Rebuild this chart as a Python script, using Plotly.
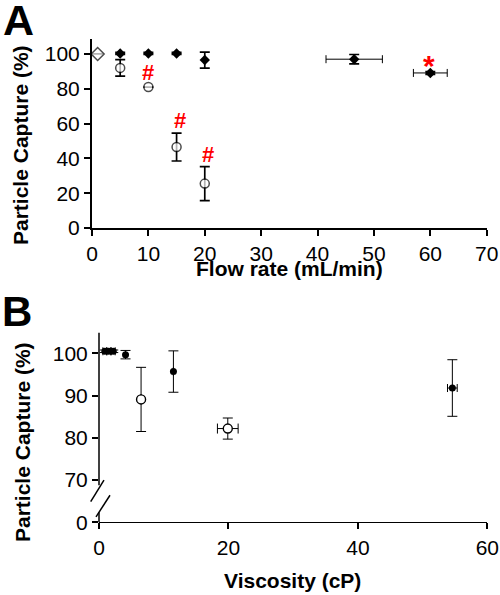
import plotly.graph_objects as go

# ---------------- Data ----------------
# Panel A: particle capture vs flow rate
a_fill_x = [5, 10, 15, 20, 46.5, 60]
a_fill_y = [100.3, 100.3, 100.3, 96.5, 97.0, 89.1]
a_fill_yerr = [0.6, 0.6, 0.6, 4.6, 2.7, 0.8]
a_fill_xerr = [0, 0, 0, 0, 5.0, 3.0]

a_open_x = [1, 5, 10, 15, 20]
a_open_y = [100, 92, 81, 46.5, 25.5]
a_open_yerr = [0, 4.7, 0, 8.0, 9.8]

a_mark_text = ["#", "#", "#", "*"]
a_mark_x = [10, 15.6, 20.6, 59.8]
a_mark_y = [89.5, 62, 42, 96.5]

a_xticks = [0, 10, 20, 30, 40, 50, 60, 70]
a_yticks = [0, 20, 40, 60, 80, 100]

# Panel B: particle capture vs viscosity
b_fill_x = [0.9, 1.5, 2.2, 4.1, 11.5, 54.6]
b_fill_y = [100.5, 100.5, 100.5, 99.7, 95.7, 91.8]
b_fill_yerr = [0.3, 0.3, 0.3, 1.0, 4.9, 6.7]
b_fill_xerr = [0.3, 0.3, 0.3, 0, 0, 0.75]

b_open_x = [6.5, 19.9]
b_open_y = [89.1, 82.2]
b_open_yerr = [7.6, 2.5]
b_open_xerr = [0, 1.6]

b_xticks = [0, 20, 40, 60]
b_yticks = [60, 70, 80, 90, 100]          # 60 is the broken-axis position of "0"
b_yticklabels = ["0", "70", "80", "90", "100"]

# ---------------- Layout geometry ----------------
W, H = 500, 595
FONT = "Liberation Sans, Arial, sans-serif"

a_xdom = [92 / W, 486.7 / W]
a_ydom = [1 - 228 / H, 1 - 39 / H]
a_xrng = [0, 70]
a_yrng = [0, 108.6]

b_xdom = [99 / W, 487.3 / W]
b_ydom = [1 - 522.3 / H, 1 - 332.7 / H]
b_xrng = [0, 60]
b_yrng = [60, 104.9]


def px(v, dom, rng):
    return dom[0] + (v - rng[0]) / (rng[1] - rng[0]) * (dom[1] - dom[0])


fig = go.Figure()

err_style = dict(type="data", color="black", thickness=1.7, width=5)

fig.add_trace(go.Scatter(
    x=a_open_x, y=a_open_y, mode="markers", xaxis="x", yaxis="y",
    marker=dict(symbol=["diamond"] + ["circle"] * 4, size=[10, 9, 9, 9, 9],
                color="white", line=dict(color="black", width=1.5)),
    error_y=dict(array=a_open_yerr, **err_style),
    cliponaxis=False, showlegend=False))

fig.add_trace(go.Scatter(
    x=a_fill_x, y=a_fill_y, mode="markers", xaxis="x", yaxis="y",
    marker=dict(symbol="diamond", size=8, color="black"),
    error_y=dict(array=a_fill_yerr, **err_style),
    error_x=dict(array=a_fill_xerr, type="data", color="black", thickness=1, width=4),
    cliponaxis=False, showlegend=False))

fig.add_trace(go.Scatter(
    x=b_open_x, y=b_open_y, mode="markers", xaxis="x2", yaxis="y2",
    marker=dict(symbol="circle", size=9, color="white", line=dict(color="black", width=1.4)),
    error_y=dict(array=b_open_yerr, type="data", color="black", thickness=1, width=5),
    error_x=dict(array=b_open_xerr, type="data", color="black", thickness=1, width=5),
    cliponaxis=False, showlegend=False))

fig.add_trace(go.Scatter(
    x=b_fill_x, y=b_fill_y, mode="markers", xaxis="x2", yaxis="y2",
    marker=dict(symbol="circle", size=7, color="black"),
    error_y=dict(array=b_fill_yerr, type="data", color="black", thickness=1, width=5),
    error_x=dict(array=b_fill_xerr, type="data", color="black", thickness=1, width=4),
    cliponaxis=False, showlegend=False))

tickfont = dict(family=FONT, size=21, color="black")
common = dict(showgrid=False, zeroline=False, ticks="outside", ticklen=6,
              tickwidth=1.5, tickcolor="black", tickfont=tickfont,
              automargin=False)

fig.update_layout(
    width=W, height=H,
    margin=dict(l=0, r=0, t=0, b=0, autoexpand=False),
    paper_bgcolor="white", plot_bgcolor="white",
    xaxis=dict(domain=a_xdom, range=a_xrng, anchor="y", tickvals=a_xticks,
               showline=True, linecolor="black", linewidth=2, **common),
    yaxis=dict(domain=a_ydom, range=a_yrng, anchor="x", tickvals=a_yticks,
               showline=True, linecolor="black", linewidth=2, **common),
    xaxis2=dict(domain=b_xdom, range=b_xrng, anchor="y2", tickvals=b_xticks,
                showline=True, linecolor="black", linewidth=1.2, **common),
    yaxis2=dict(domain=b_ydom, range=b_yrng, anchor="x2", tickvals=b_yticks,
                ticktext=b_yticklabels, showline=False, **common),
)

# Broken y-axis of panel B, drawn in paper coordinates
def bpt(x, y):
    return px(x, b_xdom, b_xrng), px(y, b_ydom, b_yrng)

shapes = []
segs = [((0, 68.8), (0, b_yrng[1])),     # upper axis segment
        ((0, 60), (0, 62.4)),            # lower axis segment
        ((-1.28, 64.9), (0.77, 70.0)),   # break slash 1
        ((-0.46, 61.3), (1.7, 66.4))]    # break slash 2
for (x0, y0), (x1, y1) in segs:
    X0, Y0 = bpt(x0, y0)
    X1, Y1 = bpt(x1, y1)
    shapes.append(dict(type="line", xref="paper", yref="paper",
                       x0=X0, y0=Y0, x1=X1, y1=Y1,
                       line=dict(color="black", width=1.5)))
fig.update_layout(shapes=shapes)

ann = []
for t, x, y in zip(a_mark_text, a_mark_x, a_mark_y):
    ann.append(dict(text="<b>%s</b>" % t, x=x, y=y, xref="x", yref="y", showarrow=False,
                    font=dict(family=FONT, size=30 if t == "*" else 22, color="#ff0000"),
                    xanchor="center", yanchor="middle",
                    yshift=-5 if t == "*" else 0))

title_font = dict(family=FONT, size=21, color="black")
ann += [
    dict(text="<b>A</b>", x=18 / W, y=1 - 20 / H, xref="paper", yref="paper",
         showarrow=False, font=dict(family=FONT, size=43, color="black"),
         xanchor="center", yanchor="middle"),
    dict(text="<b>B</b>", x=17 / W, y=1 - 311 / H, xref="paper", yref="paper",
         showarrow=False, font=dict(family=FONT, size=42, color="black"),
         xanchor="center", yanchor="middle"),
    dict(text="<b>Particle Capture (%)</b>", x=20 / W, y=1 - 145 / H,
         xref="paper", yref="paper", showarrow=False, textangle=-90,
         font=title_font, xanchor="center", yanchor="middle"),
    dict(text="<b>Flow rate (mL/min)</b>", x=289 / W, y=1 - 269 / H,
         xref="paper", yref="paper", showarrow=False,
         font=title_font, xanchor="center", yanchor="middle"),
    dict(text="<b>Particle Capture (%)</b>", x=22 / W, y=1 - 442 / H,
         xref="paper", yref="paper", showarrow=False, textangle=-90,
         font=title_font, xanchor="center", yanchor="middle"),
    dict(text="<b>Viscosity (cP)</b>", x=292 / W, y=1 - 580 / H,
         xref="paper", yref="paper", showarrow=False,
         font=title_font, xanchor="center", yanchor="middle"),
]
fig.update_layout(annotations=ann)

# remove the default page margin so the figure sits at the window's top-left corner
fig.write_html("out.html", config={"displayModeBar": False},
               post_script="document.body.style.margin='0';document.body.style.overflow='hidden';")
